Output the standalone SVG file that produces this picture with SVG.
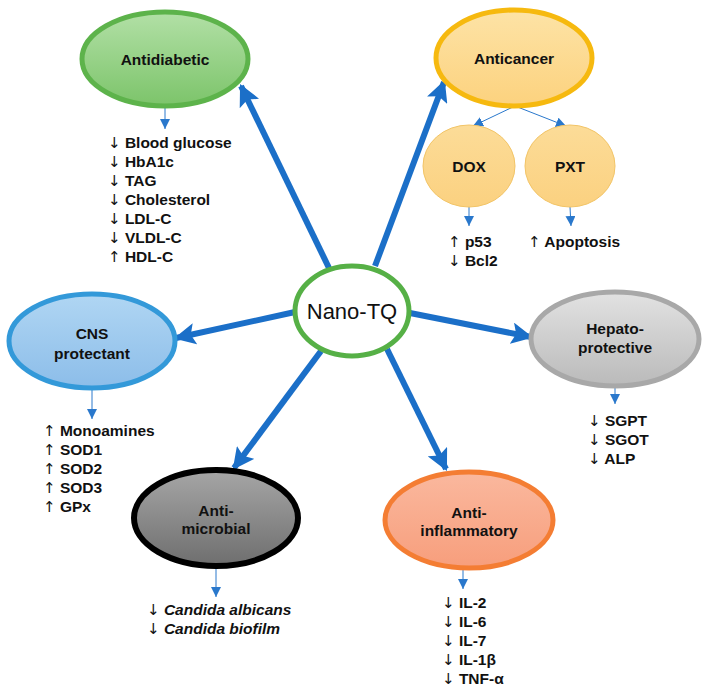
<svg xmlns="http://www.w3.org/2000/svg" width="705" height="696" viewBox="0 0 705 696">
<defs>
<linearGradient id="gGreen" x1="0" y1="0" x2="0" y2="1"><stop offset="0" stop-color="#b2e0a6"/><stop offset="1" stop-color="#7cc46a"/></linearGradient>
<linearGradient id="gGold" x1="0" y1="0" x2="0" y2="1"><stop offset="0" stop-color="#fde3a6"/><stop offset="1" stop-color="#fcd27e"/></linearGradient>
<linearGradient id="gGold2" x1="0" y1="0" x2="0" y2="1"><stop offset="0" stop-color="#fcdc98"/><stop offset="1" stop-color="#fbd180"/></linearGradient>
<linearGradient id="gBlue" x1="0" y1="0" x2="0" y2="1"><stop offset="0" stop-color="#b0d6f3"/><stop offset="1" stop-color="#8cbde9"/></linearGradient>
<linearGradient id="gGray" x1="0" y1="0" x2="0" y2="1"><stop offset="0" stop-color="#e2e2e2"/><stop offset="1" stop-color="#bababa"/></linearGradient>
<linearGradient id="gDark" x1="0" y1="0" x2="0" y2="1"><stop offset="0" stop-color="#a6a6a6"/><stop offset="1" stop-color="#6e6e6e"/></linearGradient>
<linearGradient id="gSalmon" x1="0" y1="0" x2="0" y2="1"><stop offset="0" stop-color="#fab89e"/><stop offset="1" stop-color="#f79e7c"/></linearGradient>
<marker id="big" viewBox="0 0 10 10" refX="9" refY="5" markerWidth="3.6" markerHeight="3.6" orient="auto" markerUnits="strokeWidth"><path d="M0,0 L10,5 L0,10 L2,5 Z" fill="#1b6fc8"/></marker>
<marker id="small" viewBox="0 0 10 10" refX="10" refY="5" markerWidth="10" markerHeight="10" orient="auto" markerUnits="userSpaceOnUse"><path d="M0,0 L10,5 L0,10 Z" fill="#2a78cc"/></marker>
</defs>
<style>
.lbl{font-family:"Liberation Sans",Arial,sans-serif;font-weight:bold;font-size:15.5px;fill:#111;text-anchor:middle}
.lst{font-family:"Liberation Sans",Arial,sans-serif;font-weight:bold;font-size:15.5px;fill:#111}
.ar{font-family:"DejaVu Sans",sans-serif;font-weight:normal;font-size:15px}
.big{stroke:#1b6fc8;stroke-width:6;fill:none;marker-end:url(#big)}
.thin{stroke:#2a78cc;stroke-width:1;fill:none;marker-end:url(#small)}
</style>
<rect width="705" height="696" fill="#ffffff"/>

<g id="connectors">
<line class="big" x1="329" y1="268" x2="241" y2="86"/>
<line class="big" x1="375" y1="266" x2="444" y2="82"/>
<line class="big" x1="295" y1="312" x2="176" y2="338"/>
<line class="big" x1="410" y1="313" x2="531" y2="337"/>
<line class="big" x1="321" y1="351" x2="234" y2="468"/>
<line class="big" x1="387" y1="349" x2="446" y2="469"/>
<line class="thin" x1="165" y1="108" x2="165" y2="129"/>
<line class="thin" x1="515" y1="106" x2="473" y2="126"/>
<line class="thin" x1="515" y1="106" x2="566" y2="126"/>
<line class="thin" x1="469" y1="207" x2="469" y2="226"/>
<line class="thin" x1="570" y1="207" x2="571" y2="226"/>
<line class="thin" x1="92" y1="390" x2="92" y2="419"/>
<line class="thin" x1="615" y1="386" x2="615" y2="404"/>
<line class="thin" x1="216" y1="568" x2="216" y2="597"/>
<line class="thin" x1="463" y1="570" x2="463" y2="589"/>
</g>

<g id="nano">
<ellipse cx="352" cy="311" rx="57" ry="45" fill="#ffffff" stroke="#56b046" stroke-width="5"/>
<text x="352" y="319" font-family="Liberation Sans,Arial,sans-serif" font-size="22" text-anchor="middle" fill="#111">Nano-TQ</text>
</g>

<g id="antidiabetic">
<ellipse cx="165" cy="59" rx="83" ry="47" fill="url(#gGreen)" stroke="#5db34b" stroke-width="5"/>
<text class="lbl" x="165" y="65">Antidiabetic</text>
<text class="lst" x="108" y="148"><tspan class="ar">↓</tspan> Blood glucose</text>
<text class="lst" x="108" y="167"><tspan class="ar">↓</tspan> HbA1c</text>
<text class="lst" x="108" y="186"><tspan class="ar">↓</tspan> TAG</text>
<text class="lst" x="108" y="205"><tspan class="ar">↓</tspan> Cholesterol</text>
<text class="lst" x="108" y="224"><tspan class="ar">↓</tspan> LDL-C</text>
<text class="lst" x="108" y="243"><tspan class="ar">↓</tspan> VLDL-C</text>
<text class="lst" x="108" y="262"><tspan class="ar">↑</tspan> HDL-C</text>
</g>

<g id="anticancer">
<ellipse cx="514" cy="58" rx="78" ry="48" fill="url(#gGold)" stroke="#f6b90f" stroke-width="5"/>
<text class="lbl" x="514" y="64">Anticancer</text>
</g>

<g id="dox">
<ellipse cx="469" cy="166" rx="46" ry="41" fill="url(#gGold2)" stroke="#f2c466" stroke-width="1"/>
<text class="lbl" x="469" y="172">DOX</text>
<text class="lst" x="448" y="247"><tspan class="ar">↑</tspan> p53</text>
<text class="lst" x="448" y="266"><tspan class="ar">↓</tspan> Bcl2</text>
</g>

<g id="pxt">
<ellipse cx="570" cy="166" rx="45" ry="41" fill="url(#gGold2)" stroke="#f2c466" stroke-width="1"/>
<text class="lbl" x="570" y="172">PXT</text>
<text class="lst" x="528" y="247"><tspan class="ar">↑</tspan> Apoptosis</text>
</g>

<g id="cns">
<ellipse cx="92" cy="341" rx="83" ry="47" fill="url(#gBlue)" stroke="#3399d9" stroke-width="5"/>
<text class="lbl" x="92" y="339">CNS</text>
<text class="lbl" x="92" y="359">protectant</text>
<text class="lst" x="43" y="436"><tspan class="ar">↑</tspan> Monoamines</text>
<text class="lst" x="43" y="455"><tspan class="ar">↑</tspan> SOD1</text>
<text class="lst" x="43" y="474"><tspan class="ar">↑</tspan> SOD2</text>
<text class="lst" x="43" y="493"><tspan class="ar">↑</tspan> SOD3</text>
<text class="lst" x="43" y="512"><tspan class="ar">↑</tspan> GPx</text>
</g>

<g id="hepato">
<ellipse cx="615" cy="339" rx="84" ry="47" fill="url(#gGray)" stroke="#a8a8a8" stroke-width="5"/>
<text class="lbl" x="615" y="334">Hepato-</text>
<text class="lbl" x="615" y="353">protective</text>
<text class="lst" x="588" y="426"><tspan class="ar">↓</tspan> SGPT</text>
<text class="lst" x="588" y="445"><tspan class="ar">↓</tspan> SGOT</text>
<text class="lst" x="588" y="464"><tspan class="ar">↓</tspan> ALP</text>
</g>

<g id="antimicrobial">
<ellipse cx="216" cy="518" rx="82" ry="48" fill="url(#gDark)" stroke="#000000" stroke-width="6"/>
<text class="lbl" x="216" y="516">Anti-</text>
<text class="lbl" x="216" y="534">microbial</text>
<text class="lst" x="147" y="615" font-style="italic"><tspan class="ar" font-style="normal">↓</tspan> Candida albicans</text>
<text class="lst" x="147" y="634" font-style="italic"><tspan class="ar" font-style="normal">↓</tspan> Candida biofilm</text>
</g>

<g id="antiinflammatory">
<ellipse cx="469" cy="520" rx="84" ry="48" fill="url(#gSalmon)" stroke="#f47d33" stroke-width="5"/>
<text class="lbl" x="469" y="518">Anti-</text>
<text class="lbl" x="469" y="536">inflammatory</text>
<text class="lst" x="442" y="608"><tspan class="ar">↓</tspan> IL-2</text>
<text class="lst" x="442" y="627"><tspan class="ar">↓</tspan> IL-6</text>
<text class="lst" x="442" y="646"><tspan class="ar">↓</tspan> IL-7</text>
<text class="lst" x="442" y="665"><tspan class="ar">↓</tspan> IL-1β</text>
<text class="lst" x="442" y="684"><tspan class="ar">↓</tspan> TNF-α</text>
</g>
</svg>
